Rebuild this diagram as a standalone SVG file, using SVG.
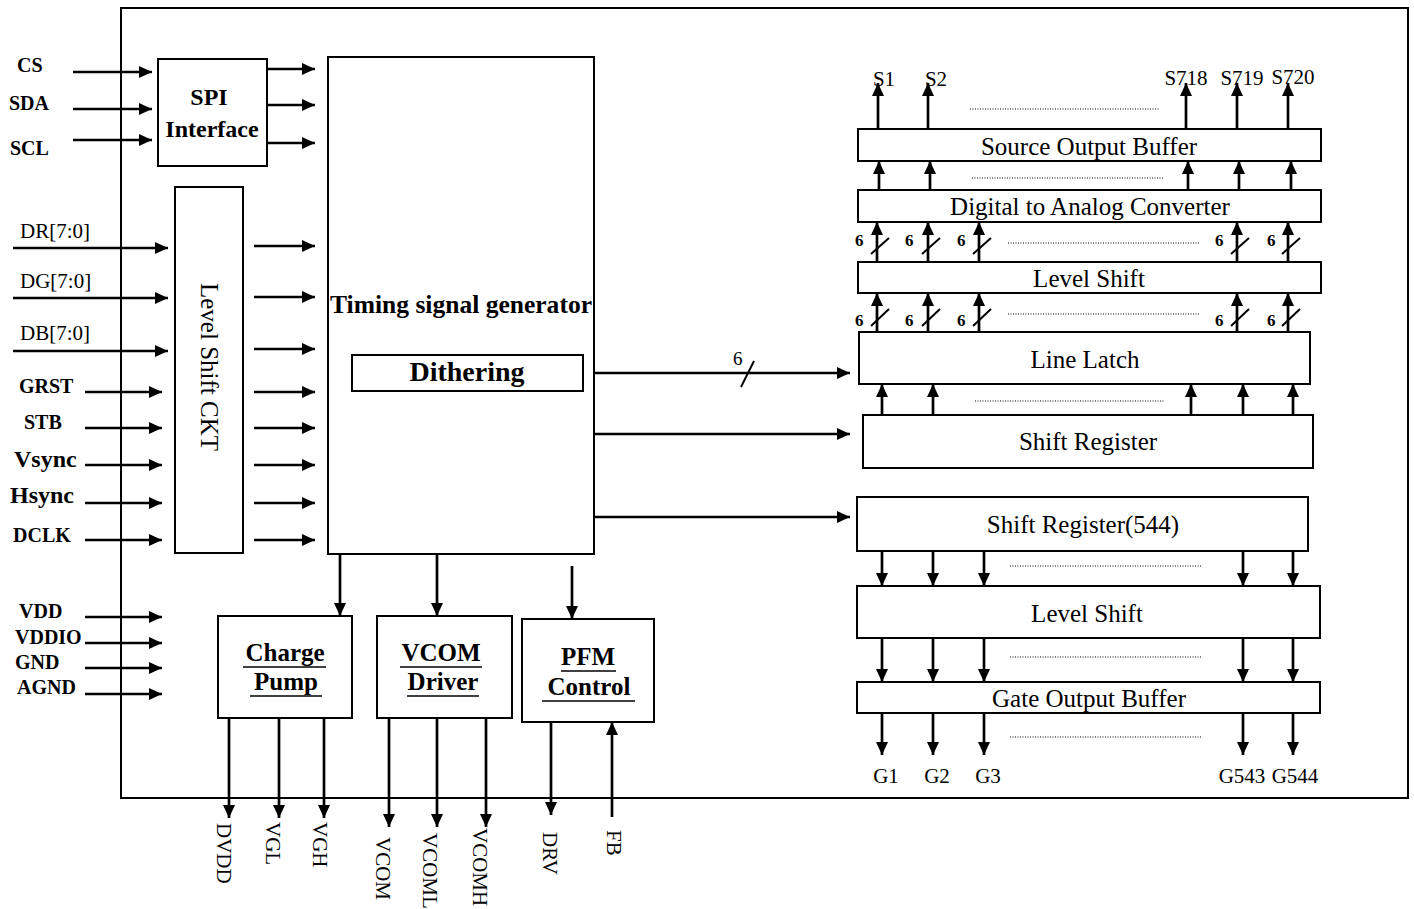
<svg xmlns="http://www.w3.org/2000/svg" width="1414" height="909" viewBox="0 0 1414 909">
<defs>
<marker id="ah" markerWidth="13" markerHeight="12" refX="13" refY="6" orient="auto" markerUnits="userSpaceOnUse"><path d="M0,0 L13,6 L0,12 z" fill="#000"/></marker>
<style>
.box{fill:none;stroke:#000;stroke-width:2}
.w{stroke:#000;stroke-width:2.7;fill:none;marker-end:url(#ah)}
.n{stroke:#000;stroke-width:2;fill:none}
.ul{stroke:#000;stroke-width:1.5;fill:none}
.dot{stroke:#000;stroke-width:1;stroke-dasharray:1 1.5;fill:none}
text{font-family:"Liberation Serif","Times New Roman",serif;fill:#000}
.b{font-weight:bold}
.lbl{font-size:20px;font-weight:bold}
.big{font-size:24px;font-weight:bold}
.bx{font-size:25px;text-anchor:middle}
.six{font-size:17px;font-weight:bold}
.s{font-size:21px;text-anchor:middle}
.u{font-size:25px;font-weight:bold;text-anchor:middle}
.rot{font-size:21px}
</style>
</defs>
<rect width="1414" height="909" fill="#fff"/>
<g id="chip"><rect class="box" x="121" y="8" width="1287" height="790"/></g>

<g id="spi"><rect class="box" x="158" y="59" width="109" height="107"/>
<text class="big" x="209" y="105" text-anchor="middle">SPI</text>
<text class="big" x="212" y="137" text-anchor="middle">Interface</text></g>

<g id="levelshiftckt"><rect class="box" x="175" y="187" width="68" height="366"/>
<text font-size="25" transform="translate(201,283) rotate(90)">Level Shift CKT</text></g>

<g id="timing"><rect class="box" x="328" y="57" width="266" height="497"/>
<text class="b" font-size="25" x="461" y="313" text-anchor="middle" textLength="262" lengthAdjust="spacingAndGlyphs">Timing signal generator</text></g>
<g id="dithering"><rect class="box" x="352" y="355" width="231" height="36"/>
<text class="b" font-size="28" x="467" y="381" text-anchor="middle">Dithering</text></g>

<g id="chargepump"><rect class="box" x="218" y="616" width="134" height="102"/>
<text class="u" x="285" y="661">Charge</text><text class="u" x="286" y="690">Pump</text>
<line class="ul" x1="243" y1="667" x2="326" y2="667"/><line class="ul" x1="250" y1="696" x2="322" y2="696"/></g>
<g id="vcomdriver"><rect class="box" x="377" y="616" width="135" height="102"/>
<text class="u" x="441" y="661">VCOM</text><text class="u" x="443" y="690">Driver</text>
<line class="ul" x1="400" y1="667" x2="482" y2="667"/><line class="ul" x1="407" y1="696" x2="479" y2="696"/></g>
<g id="pfm"><rect class="box" x="522" y="619" width="132" height="103"/>
<text class="u" x="588" y="665">PFM</text><text class="u" x="589" y="695">Control</text>
<line class="ul" x1="561" y1="671" x2="616" y2="671"/><line class="ul" x1="542" y1="701" x2="635" y2="701"/></g>

<g id="sob"><rect class="box" x="858" y="129" width="463" height="32"/><text class="bx" x="1089" y="155">Source Output Buffer</text></g>
<g id="dac"><rect class="box" x="858" y="190" width="463" height="32"/><text class="bx" x="1090" y="215">Digital to Analog Converter</text></g>
<g id="srclevelshift"><rect class="box" x="858" y="262" width="463" height="31"/><text class="bx" x="1089" y="287">Level Shift</text></g>
<g id="linelatch"><rect class="box" x="859" y="332" width="451" height="52"/><text class="bx" x="1085" y="368">Line Latch</text></g>
<g id="shiftreg"><rect class="box" x="863" y="415" width="450" height="53"/><text class="bx" x="1088" y="450">Shift Register</text></g>
<g id="shiftreg544"><rect class="box" x="857" y="497" width="451" height="54"/><text class="bx" x="1083" y="533">Shift Register(544)</text></g>
<g id="gatelevelshift"><rect class="box" x="857" y="586" width="463" height="52"/><text class="bx" x="1087" y="622">Level Shift</text></g>
<g id="gob"><rect class="box" x="857" y="682" width="463" height="31"/><text class="bx" x="1089" y="707">Gate Output Buffer</text></g>

<g id="labels">
<text class="lbl" x="17" y="72">CS</text>
<text class="lbl" x="9" y="110">SDA</text>
<text class="lbl" x="10" y="155">SCL</text>
<text font-size="21" x="20" y="238">DR[7:0]</text>
<text font-size="21" x="20" y="288">DG[7:0]</text>
<text font-size="21" x="20" y="340">DB[7:0]</text>
<text class="lbl" x="19" y="393">GRST</text>
<text class="lbl" x="24" y="429">STB</text>
<text class="big" x="14" y="467">Vsync</text>
<text class="big" x="10" y="503">Hsync</text>
<text class="lbl" x="13" y="542">DCLK</text>
<text class="lbl" x="19" y="618">VDD</text>
<text class="lbl" x="15" y="644">VDDIO</text>
<text class="lbl" x="15" y="669">GND</text>
<text class="lbl" x="17" y="694">AGND</text>
<text class="rot" transform="translate(217,823) rotate(90)">DVDD</text>
<text class="rot" transform="translate(266,822) rotate(90)">VGL</text>
<text class="rot" transform="translate(313,822) rotate(90)">VGH</text>
<text class="rot" transform="translate(376,837) rotate(90)">VCOM</text>
<text class="rot" transform="translate(423,833) rotate(90)">VCOML</text>
<text class="rot" transform="translate(473,828) rotate(90)">VCOMH</text>
<text class="rot" transform="translate(543,832) rotate(90)">DRV</text>
<text class="rot" transform="translate(607,830) rotate(90)">FB</text>
<text class="s" x="884" y="86">S1</text>
<text class="s" x="936" y="86">S2</text>
<text class="s" x="1186" y="85">S718</text>
<text class="s" x="1242" y="85">S719</text>
<text class="s" x="1293" y="84">S720</text>
<text class="s" x="886" y="783">G1</text>
<text class="s" x="937" y="783">G2</text>
<text class="s" x="988" y="783">G3</text>
<text class="s" x="1242" y="783">G543</text>
<text class="s" x="1295" y="783">G544</text>
<text class="six" x="855" y="246">6</text><text class="six" x="905" y="246">6</text><text class="six" x="957" y="246">6</text><text class="six" x="1215" y="246">6</text><text class="six" x="1267" y="246">6</text>
<text class="six" x="855" y="326">6</text><text class="six" x="905" y="326">6</text><text class="six" x="957" y="326">6</text><text class="six" x="1215" y="326">6</text><text class="six" x="1267" y="326">6</text>
<text font-size="19" x="733" y="365">6</text>
</g>

<g id="connectors">
<line class="w" x1="73" y1="72" x2="152" y2="72"/>
<line class="w" x1="73" y1="109" x2="152" y2="109"/>
<line class="w" x1="73" y1="140" x2="152" y2="140"/>
<line class="w" x1="268" y1="69" x2="315" y2="69"/>
<line class="w" x1="268" y1="105" x2="315" y2="105"/>
<line class="w" x1="268" y1="143" x2="315" y2="143"/>
<line class="w" x1="13" y1="248" x2="168" y2="248"/>
<line class="w" x1="13" y1="298" x2="168" y2="298"/>
<line class="w" x1="13" y1="351" x2="168" y2="351"/>
<line class="w" x1="85" y1="392" x2="162" y2="392"/>
<line class="w" x1="85" y1="428" x2="162" y2="428"/>
<line class="w" x1="85" y1="465" x2="162" y2="465"/>
<line class="w" x1="85" y1="503" x2="162" y2="503"/>
<line class="w" x1="85" y1="540" x2="162" y2="540"/>
<line class="w" x1="85" y1="617" x2="162" y2="617"/>
<line class="w" x1="85" y1="643" x2="162" y2="643"/>
<line class="w" x1="85" y1="668" x2="162" y2="668"/>
<line class="w" x1="85" y1="694" x2="162" y2="694"/>
<line class="w" x1="254" y1="246" x2="315" y2="246"/>
<line class="w" x1="254" y1="297" x2="315" y2="297"/>
<line class="w" x1="254" y1="349" x2="315" y2="349"/>
<line class="w" x1="254" y1="392" x2="315" y2="392"/>
<line class="w" x1="254" y1="428" x2="315" y2="428"/>
<line class="w" x1="254" y1="465" x2="315" y2="465"/>
<line class="w" x1="254" y1="503" x2="315" y2="503"/>
<line class="w" x1="254" y1="540" x2="315" y2="540"/>
<line class="w" x1="340" y1="554" x2="340" y2="616"/>
<line class="w" x1="437" y1="554" x2="437" y2="616"/>
<line class="w" x1="572" y1="566" x2="572" y2="619"/>
<line class="w" x1="229" y1="718" x2="229" y2="818"/>
<line class="w" x1="279" y1="718" x2="279" y2="818"/>
<line class="w" x1="324" y1="718" x2="324" y2="818"/>
<line class="w" x1="389" y1="718" x2="389" y2="827"/>
<line class="w" x1="437" y1="718" x2="437" y2="827"/>
<line class="w" x1="486" y1="718" x2="486" y2="827"/>
<line class="w" x1="551" y1="722" x2="551" y2="815"/>
<line class="w" x1="612" y1="817" x2="612" y2="722"/>
<line class="w" x1="595" y1="373" x2="850" y2="373" stroke-width="3.5"/>
<line class="n" x1="741" y1="387" x2="754" y2="361"/>
<line class="w" x1="595" y1="434" x2="850" y2="434"/>
<line class="w" x1="595" y1="517" x2="850" y2="517"/>
<line class="w" x1="878" y1="129" x2="878" y2="83"/>
<line class="w" x1="928" y1="129" x2="928" y2="83"/>
<line class="w" x1="1186" y1="129" x2="1186" y2="83"/>
<line class="w" x1="1237" y1="129" x2="1237" y2="83"/>
<line class="w" x1="1288" y1="129" x2="1288" y2="83"/>
<line class="w" x1="879" y1="190" x2="879" y2="161"/>
<line class="w" x1="930" y1="190" x2="930" y2="161"/>
<line class="w" x1="1188" y1="190" x2="1188" y2="161"/>
<line class="w" x1="1239" y1="190" x2="1239" y2="161"/>
<line class="w" x1="1291" y1="190" x2="1291" y2="161"/>
<line class="w" x1="877" y1="262" x2="877" y2="222"/>
<line class="w" x1="928" y1="262" x2="928" y2="222"/>
<line class="w" x1="979" y1="262" x2="979" y2="222"/>
<line class="w" x1="1237" y1="262" x2="1237" y2="222"/>
<line class="w" x1="1288" y1="262" x2="1288" y2="222"/>
<line class="n" x1="871" y1="254" x2="889" y2="238"/>
<line class="n" x1="922" y1="254" x2="940" y2="238"/>
<line class="n" x1="973" y1="254" x2="991" y2="238"/>
<line class="n" x1="1231" y1="254" x2="1249" y2="238"/>
<line class="n" x1="1282" y1="254" x2="1300" y2="238"/>
<line class="w" x1="877" y1="332" x2="877" y2="293"/>
<line class="w" x1="928" y1="332" x2="928" y2="293"/>
<line class="w" x1="979" y1="332" x2="979" y2="293"/>
<line class="w" x1="1237" y1="332" x2="1237" y2="293"/>
<line class="w" x1="1288" y1="332" x2="1288" y2="293"/>
<line class="n" x1="871" y1="326" x2="889" y2="309"/>
<line class="n" x1="922" y1="326" x2="940" y2="309"/>
<line class="n" x1="973" y1="326" x2="991" y2="309"/>
<line class="n" x1="1231" y1="326" x2="1249" y2="309"/>
<line class="n" x1="1282" y1="326" x2="1300" y2="309"/>
<line class="w" x1="882" y1="415" x2="882" y2="384"/>
<line class="w" x1="933" y1="415" x2="933" y2="384"/>
<line class="w" x1="1191" y1="415" x2="1191" y2="384"/>
<line class="w" x1="1243" y1="415" x2="1243" y2="384"/>
<line class="w" x1="1293" y1="415" x2="1293" y2="384"/>
<line class="w" x1="882" y1="551" x2="882" y2="586"/>
<line class="w" x1="933" y1="551" x2="933" y2="586"/>
<line class="w" x1="984" y1="551" x2="984" y2="586"/>
<line class="w" x1="1243" y1="551" x2="1243" y2="586"/>
<line class="w" x1="1293" y1="551" x2="1293" y2="586"/>
<line class="w" x1="882" y1="638" x2="882" y2="682"/>
<line class="w" x1="933" y1="638" x2="933" y2="682"/>
<line class="w" x1="984" y1="638" x2="984" y2="682"/>
<line class="w" x1="1243" y1="638" x2="1243" y2="682"/>
<line class="w" x1="1293" y1="638" x2="1293" y2="682"/>
<line class="w" x1="882" y1="713" x2="882" y2="755"/>
<line class="w" x1="933" y1="713" x2="933" y2="755"/>
<line class="w" x1="984" y1="713" x2="984" y2="755"/>
<line class="w" x1="1243" y1="713" x2="1243" y2="755"/>
<line class="w" x1="1293" y1="713" x2="1293" y2="755"/>
<line class="dot" x1="970" y1="109" x2="1160" y2="109"/>
<line class="dot" x1="972" y1="178" x2="1163" y2="178"/>
<line class="dot" x1="1008" y1="243" x2="1200" y2="243"/>
<line class="dot" x1="1008" y1="314" x2="1200" y2="314"/>
<line class="dot" x1="975" y1="401" x2="1165" y2="401"/>
<line class="dot" x1="1010" y1="566" x2="1202" y2="566"/>
<line class="dot" x1="1010" y1="657" x2="1202" y2="657"/>
<line class="dot" x1="1010" y1="737" x2="1202" y2="737"/>
</g>
</svg>
